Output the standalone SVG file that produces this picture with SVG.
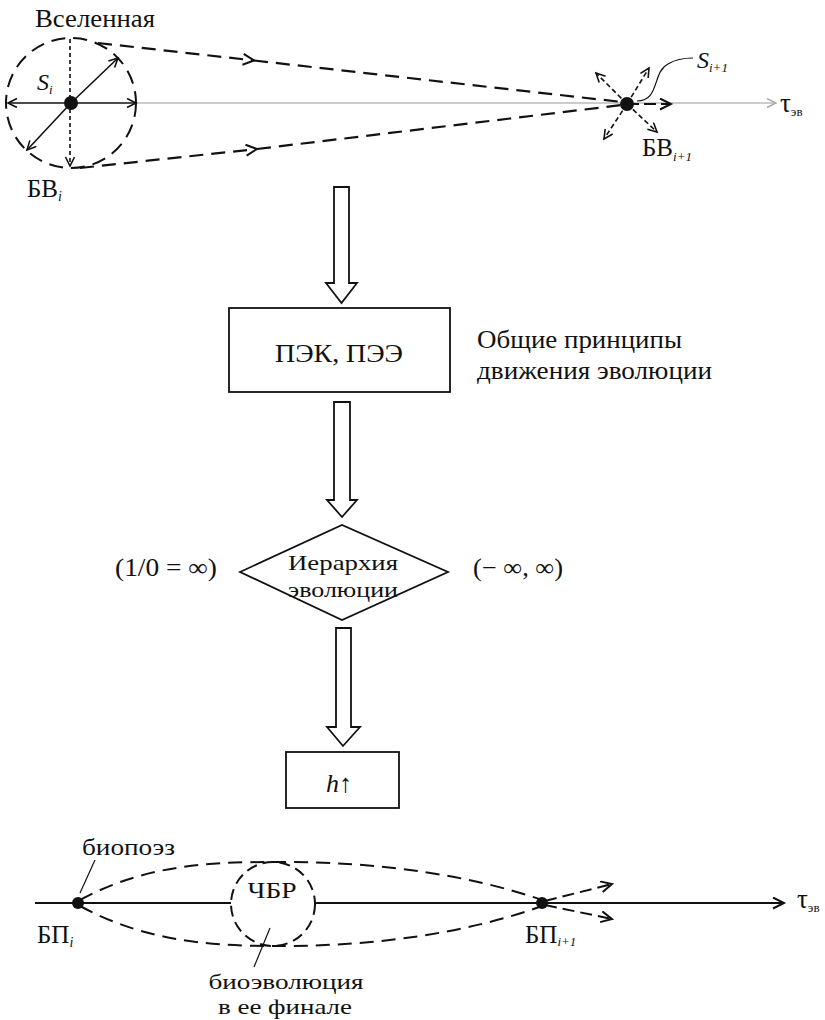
<svg xmlns="http://www.w3.org/2000/svg" width="825" height="1020" viewBox="0 0 825 1020" font-family="'Liberation Serif', 'Times New Roman', 'DejaVu Serif', serif">
<style>
text{fill:#111}
.ln{fill:none;stroke:#111;stroke-width:1.6}
.ds{fill:none;stroke:#111;stroke-width:2.2;stroke-dasharray:14 8}
.sd{fill:none;stroke:#111;stroke-width:1.6;stroke-dasharray:5 3}
.blk{fill:#fff;stroke:#111;stroke-width:1.8}
.it{font-style:italic}
</style>
<defs>
<marker id="oa" markerUnits="userSpaceOnUse" markerWidth="14" markerHeight="14" refX="10" refY="5" orient="auto-start-reverse">
<path d="M1,0.5 L10,5 L1,9.5" fill="none" stroke="#111" stroke-width="1.6"/>
</marker>
<marker id="ob" markerUnits="userSpaceOnUse" markerWidth="16" markerHeight="16" refX="12" refY="6" orient="auto">
<path d="M1,0.5 L12,6 L1,11.5" fill="none" stroke="#111" stroke-width="2"/>
</marker>
<marker id="ga" markerUnits="userSpaceOnUse" markerWidth="14" markerHeight="14" refX="10" refY="5" orient="auto">
<path d="M1,0.5 L10,5 L1,9.5" fill="none" stroke="#aaa" stroke-width="1.4"/>
</marker>
</defs>

<g id="connectors">
<line x1="136" y1="103" x2="776" y2="103" stroke="#bbb" stroke-width="1.4" marker-end="url(#ga)"/>
<path class="ds" d="M98,43 L254,60.5" marker-end="url(#ob)"/>
<path class="ds" d="M254,60.5 L622,102"/>
<path class="ds" d="M80,168 L257,149" marker-end="url(#ob)"/>
<path class="ds" d="M257,149 L622,105"/>
<path class="sd" d="M627,104 L596,73" marker-end="url(#oa)"/>
<path class="sd" d="M627,104 L649,68" marker-end="url(#oa)"/>
<path class="sd" d="M627,104 L604,139" marker-end="url(#oa)"/>
<path class="sd" d="M627,104 L657,132" marker-end="url(#oa)"/>
<path class="ln" d="M627,104 L671,104" style="stroke-width:2.2;stroke-dasharray:12 5" marker-end="url(#ob)"/>
<path class="ln" d="M637,101 C660,101 652,72 668,64 C676,59 686,58 693,58" style="stroke-width:1.2"/>
<polygon class="blk" points="334,187 349,187 349,283 357,283 341.5,303 326,283 334,283"/>
<polygon class="blk" points="334,402 350,402 350,500 357,500 342,517 327,500 334,500"/>
<polygon class="blk" points="336,628 351,628 351,727 360,727 343,746 327,727 336,727"/>
<line class="ln" x1="35" y1="903" x2="231" y2="903" style="stroke-width:2"/>
<line class="ln" x1="315" y1="903" x2="784" y2="903" style="stroke-width:2" marker-end="url(#ob)"/>
<path class="ds" d="M80,900 C150,862 220,862 282,862 C380,862 470,875 542,900" style="stroke-width:2"/>
<path class="ds" d="M80,906 C150,944 220,946 282,946 C380,946 470,932 542,906" style="stroke-width:2"/>
<path class="ds" d="M545,901 L612,884" style="stroke-width:2;stroke-dasharray:12 6" marker-end="url(#ob)"/>
<path class="ds" d="M545,905 L612,919" style="stroke-width:2;stroke-dasharray:12 6" marker-end="url(#ob)"/>
<line class="ln" x1="80" y1="893" x2="95" y2="860" style="stroke-width:1.2"/>
<line class="ln" x1="270" y1="928" x2="254" y2="967" style="stroke-width:1.2"/>
</g>

<g id="universe">
<circle cx="71" cy="103" r="65" class="ds" style="stroke-width:2"/>
<line class="ln" x1="71" y1="103" x2="8" y2="103" marker-end="url(#oa)"/>
<line class="ln" x1="71" y1="103" x2="136" y2="103" marker-end="url(#oa)"/>
<line class="ln" x1="71" y1="103" x2="118" y2="58" marker-end="url(#oa)"/>
<line class="ln" x1="71" y1="103" x2="27" y2="150" marker-end="url(#oa)"/>
<line class="sd" x1="70" y1="39" x2="70" y2="166" marker-end="url(#oa)" style="stroke-dasharray:4 3"/>
<circle cx="71" cy="103" r="7" fill="#111"/>
<text x="35" y="27" font-size="25" textLength="120" lengthAdjust="spacingAndGlyphs">Вселенная</text>
<text x="37" y="90" font-size="24" class="it">S<tspan font-size="13" dy="4">i</tspan></text>
<text x="27" y="197" font-size="25">БВ<tspan font-size="14" dy="4" class="it">i</tspan></text>
</g>

<g id="next-universe">
<circle cx="627" cy="104" r="7" fill="#111"/>
<text x="697" y="68" font-size="24" class="it">S<tspan font-size="13" dy="4">i+1</tspan></text>
<text x="642" y="156" font-size="25">БВ<tspan font-size="13" dy="5" class="it">i+1</tspan></text>
<text x="780" y="112" font-size="27">τ<tspan font-size="13" dy="4">эв</tspan></text>
</g>

<g id="pek">
<rect x="229" y="308" width="221" height="84" fill="#fff" stroke="#111" stroke-width="1.8"/>
<text x="339" y="362" font-size="25" text-anchor="middle" textLength="128" lengthAdjust="spacingAndGlyphs">ПЭК, ПЭЭ</text>
<text x="477" y="348" font-size="25" textLength="205" lengthAdjust="spacingAndGlyphs">Общие принципы</text>
<text x="477" y="379" font-size="25" textLength="235" lengthAdjust="spacingAndGlyphs">движения эволюции</text>
</g>

<g id="hierarchy">
<polygon points="240,572 342,525 448,572 342,620" fill="#fff" stroke="#111" stroke-width="1.8"/>
<text x="343" y="570" font-size="21" text-anchor="middle" textLength="110" lengthAdjust="spacingAndGlyphs">Иерархия</text>
<text x="343" y="597" font-size="21" text-anchor="middle" textLength="110" lengthAdjust="spacingAndGlyphs">эволюции</text>
<text x="115" y="576" font-size="25" textLength="102" lengthAdjust="spacingAndGlyphs">(1/0 = ∞)</text>
<text x="473" y="576" font-size="25" textLength="90" lengthAdjust="spacingAndGlyphs">(− ∞, ∞)</text>
</g>

<g id="h-box">
<rect x="286" y="752" width="113" height="56" fill="#fff" stroke="#111" stroke-width="1.8"/>
<text x="339" y="792" font-size="26" text-anchor="middle"><tspan class="it">h</tspan>↑</text>
</g>

<g id="biopoez">
<circle cx="78" cy="903" r="6" fill="#111"/>
<text x="82" y="855" font-size="24" textLength="93" lengthAdjust="spacingAndGlyphs">биопоэз</text>
<text x="37" y="943" font-size="25">БП<tspan font-size="14" dy="4" class="it">i</tspan></text>
</g>

<g id="chbr">
<circle cx="273" cy="904" r="42" class="ds" style="stroke-width:2;stroke-dasharray:11 6"/>
<text x="272" y="898" font-size="24" text-anchor="middle" textLength="49" lengthAdjust="spacingAndGlyphs">ЧБР</text>
<text x="286" y="989" font-size="21" text-anchor="middle" textLength="155" lengthAdjust="spacingAndGlyphs">биоэволюция</text>
<text x="285" y="1014" font-size="21" text-anchor="middle" textLength="134" lengthAdjust="spacingAndGlyphs">в ее финале</text>
</g>

<g id="bp-next">
<circle cx="542" cy="903" r="6" fill="#111"/>
<text x="525" y="943" font-size="25">БП<tspan font-size="13" dy="3" class="it">i+1</tspan></text>
<text x="797" y="908" font-size="27">τ<tspan font-size="13" dy="4">эв</tspan></text>
</g>
</svg>
